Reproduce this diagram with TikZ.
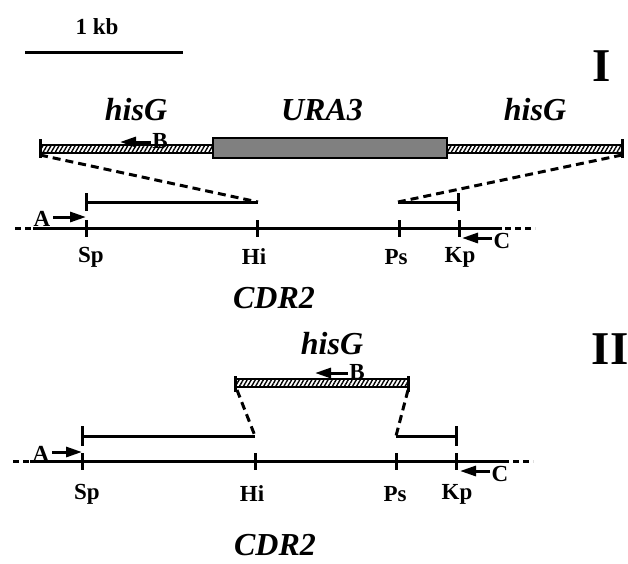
\documentclass[tikz,border=0pt]{standalone}
\usepackage{fontspec}
\setmainfont{Liberation Serif}
\usetikzlibrary{arrows.meta,patterns.meta}
\begin{document}
\begin{tikzpicture}[x=1pt,y=-1pt,line width=3pt,
    lab/.style={font=\fontsize{23}{26}\selectfont\bfseries,inner sep=0pt},
    gene/.style={font=\fontsize{32}{36}\selectfont\bfseries\itshape,inner sep=0pt},
    big/.style={font=\fontsize{47}{50}\selectfont\bfseries,inner sep=0pt},
    hatch/.style={draw,line width=1.5pt,pattern={Lines[angle=60,distance=3.5pt,line width=1.4pt]}},
    link/.style={dash pattern=on 8pt off 5pt},
    primer/.style={-{Triangle[length=16pt,width=10pt]},line width=3pt}]
\useasboundingbox (0,0) rectangle (628,563);
% scale
\node[lab] (kb) at (97,27) {1 kb};
\coordinate (s1) at (25,52); \coordinate (s2) at (183,52);
\draw (s1) -- (s2);
% construct I
\node[big] (I) at (602,66) {I};
\node[gene] (hisGa) at (136,110) {hisG};
\node[gene] (ura) at (322,110) {URA3};
\node[gene] (hisGb) at (535,110) {hisG};
\draw[hatch] (40,145) rectangle (213,153);
\draw[fill=black!50,line width=2pt] (213,138) rectangle (447,158);
\draw[hatch] (447,145) rectangle (622,153);
\coordinate (e1) at (40,155); \coordinate (e2) at (622,155);
\draw (40,139) -- (40,158) (622,139) -- (622,158);
\node[lab] (B1) at (160,141) {B};
\coordinate (tB1) at (120,142);
\draw[primer] (B1.west |- tB1) -- (tB1);
% fragments I
\coordinate (f1) at (86,202); \coordinate (f2) at (258,202);
\coordinate (f3) at (398,202); \coordinate (f4) at (458,202);
\draw (f1) -- (f2) (f3) -- (f4);
\draw (86,193) -- (86,211) (458,193) -- (458,211);
\draw[link] (e1) -- (f2);
\draw[link] (e2) -- (f3);
% locus I
\coordinate (m1) at (15,228); \coordinate (m2) at (535,228);
\draw[dash pattern=on 6pt off 4pt] (m1) -- (m2);
\draw (33,228) -- (502,228);
\foreach \x in {86,257,399,459} \draw (\x,220) -- (\x,237);
\node[lab] (A1) at (42,219) {A};
\coordinate (tA1) at (86,217);
\draw[primer] ([xshift=1.5pt]A1.east |- tA1) -- (tA1);
\node[lab] (C1) at (502,241) {C};
\coordinate (tC1) at (462,238);
\draw[primer] (C1.west |- tC1) -- (tC1);
\node[lab] (Sp1) at (91,257) {Sp};
\node[lab] (Hi1) at (254,257) {Hi};
\node[lab] (Ps1) at (396,257) {Ps};
\node[lab] (Kp1) at (460,257) {Kp};
\node[gene] (cdr1) at (274,298) {CDR2};
% construct II
\node[big] (II) at (610,349) {II};
\node[gene] (hisGc) at (332,344) {hisG};
\draw[hatch] (235,379) rectangle (408,387);
\draw (235,376) -- (235,392) (408,376) -- (408,392);
\coordinate (e3) at (237,390); \coordinate (e4) at (408,390);
\node[lab] (B2) at (357,372) {B};
\coordinate (tB2) at (315,373);
\draw[primer] (B2.west |- tB2) -- (tB2);
% fragments II
\coordinate (g1) at (82,436); \coordinate (g2) at (255,436);
\coordinate (g3) at (396,436); \coordinate (g4) at (456,436);
\draw (g1) -- (g2) (g3) -- (g4);
\draw (82,426) -- (82,446) (456,426) -- (456,446);
\draw[link] (e3) -- (g2);
\draw[link] (e4) -- (g3);
% locus II
\coordinate (n1) at (13,461); \coordinate (n2) at (533,461);
\draw[dash pattern=on 6pt off 4pt] (n1) -- (n2);
\draw (30,461) -- (505,461);
\foreach \x in {82,255,396,456} \draw (\x,453) -- (\x,470);
\node[lab] (A2) at (41,454) {A};
\coordinate (tA2) at (82,452);
\draw[primer] ([xshift=1.5pt]A2.east |- tA2) -- (tA2);
\node[lab] (C2) at (500,474) {C};
\coordinate (tC2) at (460,471);
\draw[primer] (C2.west |- tC2) -- (tC2);
\node[lab] (Sp2) at (87,494) {Sp};
\node[lab] (Hi2) at (252,494) {Hi};
\node[lab] (Ps2) at (395,494) {Ps};
\node[lab] (Kp2) at (457,494) {Kp};
\node[gene] (cdr2) at (275,545) {CDR2};
\end{tikzpicture}
\end{document}
